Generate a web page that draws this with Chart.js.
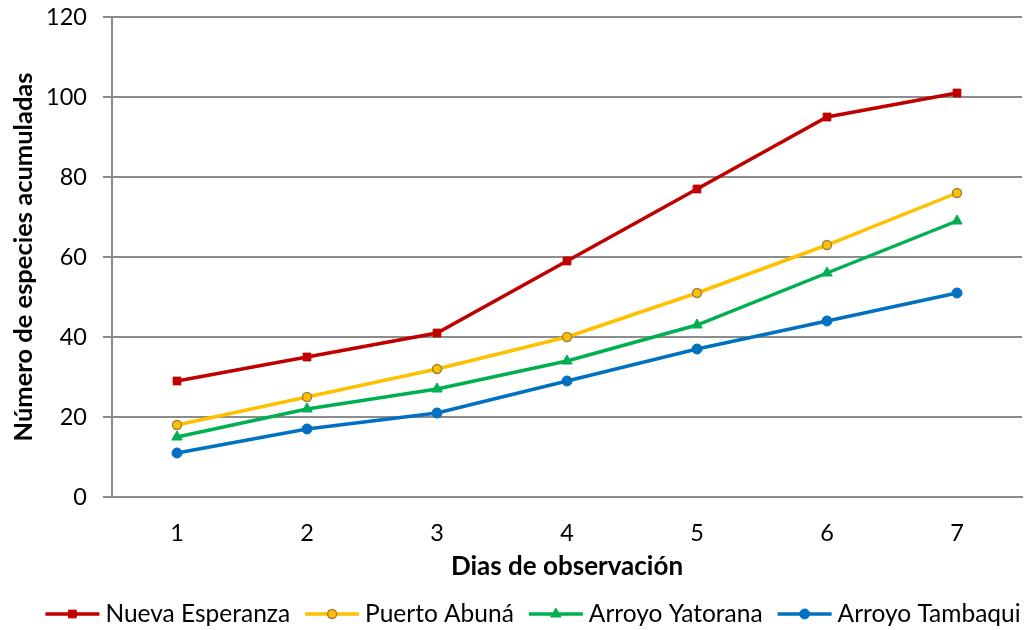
<!DOCTYPE html>
<html>
<head>
<meta charset="utf-8">
<script src="https://cdn.jsdelivr.net/npm/chart.js@4.4.1/dist/chart.umd.min.js"></script>
<style>
  html, body { margin: 0; padding: 0; background: #ffffff; }
  #wrap { width: 1026px; height: 630px; position: relative; }
</style>
</head>
<body>
<div id="wrap"><canvas id="chart" width="1026" height="630"></canvas></div>
<script>
// Days of observation
const days = ['1', '2', '3', '4', '5', '6', '7'];

// Accumulated species per site
const nuevaEsperanza = [29, 35, 41, 59, 77, 95, 101];
const puertoAbuna    = [18, 25, 32, 40, 51, 63, 76];
const arroyoYatorana = [15, 22, 27, 34, 43, 56, 69];
const arroyoTambaqui = [11, 17, 21, 29, 37, 44, 51];

const siteNames = ['Nueva Esperanza', 'Puerto Abuná', 'Arroyo Yatorana', 'Arroyo Tambaqui'];
const yTicks = [0, 20, 40, 60, 80, 100, 120];

const FONT = 'Lato, Calibri, Carlito, sans-serif';
const GRID = '#8c8c8c';

const styles = [
  { color: '#C00000', point: 'rect',     radius: 5.5, border: '#C00000' },
  { color: '#FFC000', point: 'circle',   radius: 4.5, border: '#9C8440' },
  { color: '#00B050', point: 'triangle', radius: 6,   border: '#00B050' },
  { color: '#0070C0', point: 'circle',   radius: 5,   border: '#0070C0' }
];
const seriesValues = [nuevaEsperanza, puertoAbuna, arroyoYatorana, arroyoTambaqui];

const datasets = seriesValues.map((vals, i) => ({
  label: siteNames[i],
  data: vals,
  borderColor: styles[i].color,
  backgroundColor: styles[i].color,
  borderWidth: 3.5,
  pointStyle: styles[i].point,
  pointRadius: styles[i].radius,
  pointHoverRadius: styles[i].radius,
  pointBackgroundColor: styles[i].color,
  pointBorderColor: styles[i].border,
  pointBorderWidth: i === 1 ? 1.5 : 1,
  tension: 0,
  fill: false
}));

// Legend with a line segment and the series marker, laid out in one centred row
const lineLegend = {
  id: 'lineLegend',
  afterDraw(chart) {
    const ctx = chart.ctx;
    ctx.save();
    ctx.font = '24.5px ' + FONT;
    const lineLen = 54, gapText = 6, gapItem = 15;
    const items = chart.data.datasets.map(ds => ({ ds, w: ctx.measureText(ds.label).width }));
    const total = items.reduce((s, it) => s + lineLen + gapText + it.w, 0) + gapItem * (items.length - 1);
    let x = 533 - total / 2;
    const y = 614;
    items.forEach(({ ds, w }) => {
      ctx.strokeStyle = ds.borderColor;
      ctx.lineWidth = 3.5;
      ctx.beginPath();
      ctx.moveTo(x, y);
      ctx.lineTo(x + lineLen, y);
      ctx.stroke();
      ctx.fillStyle = ds.pointBackgroundColor;
      ctx.strokeStyle = ds.pointBorderColor;
      ctx.lineWidth = ds.pointBorderWidth;
      Chart.helpers.drawPoint(ctx, {
        pointStyle: ds.pointStyle,
        radius: ds.pointRadius,
        borderWidth: ds.pointBorderWidth,
        rotation: 0
      }, x + lineLen / 2, y);
      x += lineLen + gapText;
      ctx.fillStyle = '#000000';
      ctx.textBaseline = 'middle';
      ctx.textAlign = 'left';
      ctx.fillText(ds.label, x, y);
      x += w + gapItem;
    });
    ctx.restore();
  }
};

new Chart(document.getElementById('chart'), {
  type: 'line',
  data: { labels: days, datasets },
  plugins: [lineLegend],
  options: {
    responsive: false,
    animation: false,
    layout: { autoPadding: false, padding: { top: 17, right: 4, bottom: 30, left: 0 } },
    plugins: {
      legend: { display: false },
      tooltip: { enabled: false }
    },
    scales: {
      x: {
        offset: true,
        grid: { display: false, drawTicks: false },
        border: { display: true, color: GRID, width: 2 },
        ticks: { color: '#000000', font: { family: FONT, size: 23.5 }, padding: 22 },
        title: {
          display: true,
          text: 'Dias de observación',
          color: '#000000',
          font: { family: FONT, size: 26, weight: 'bold' },
          padding: { top: 0, bottom: 18 }
        },
        afterFit(scale) { scale.height = 103; scale.paddingTop = 0; scale.paddingBottom = 0; }
      },
      y: {
        min: 0,
        max: 120,
        afterBuildTicks(scale) { scale.ticks = yTicks.map(v => ({ value: v })); },
        grid: { color: GRID, lineWidth: 2, tickLength: 9, drawTicks: true },
        border: { display: true, color: GRID, width: 2 },
        ticks: { color: '#000000', font: { family: FONT, size: 23.5 }, padding: 16 },
        title: {
          display: true,
          text: 'Número de especies acumuladas',
          color: '#000000',
          font: { family: FONT, size: 25.5, weight: 'bold' },
          padding: { top: 8, bottom: 0 }
        },
        afterFit(scale) { scale.width = 112; scale.paddingTop = 0; scale.paddingBottom = 0; }
      }
    }
  }
});
</script>
</body>
</html>
